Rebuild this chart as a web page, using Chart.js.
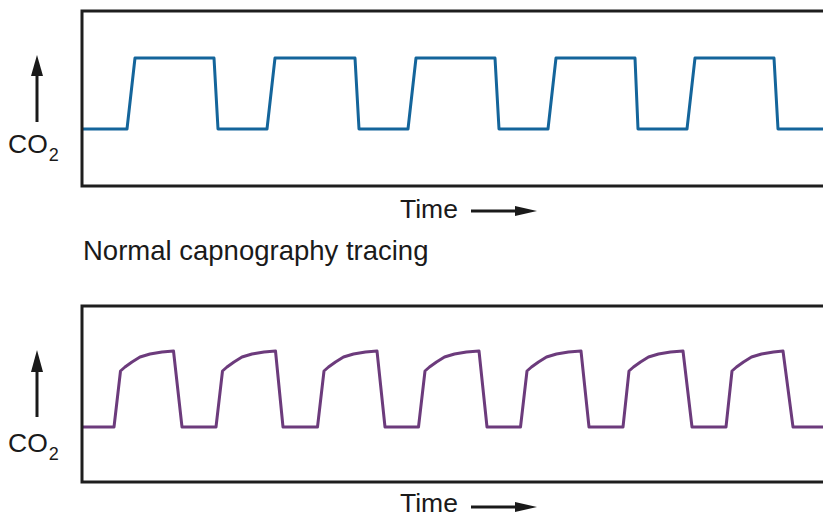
<!DOCTYPE html>
<html>
<head>
<meta charset="utf-8">
<title>Capnography tracings</title>
<script src="https://cdn.jsdelivr.net/npm/chart.js@4/dist/chart.umd.min.js"></script>
<style>
  html, body { margin: 0; padding: 0; background: #fff; overflow: hidden; }
  body { width: 823px; height: 517px; position: relative; font-family: "Liberation Sans", Arial, Helvetica, sans-serif; color: #1a1a1a; }
  .lbl { position: absolute; font-size: 26.5px; line-height: 26px; white-space: nowrap; }
  .lbl sub { font-size: 18px; vertical-align: baseline; position: relative; top: 8px; margin-left: 1px; }
  .panel { position: absolute; left: 80px; width: 760px; }
  svg { position: absolute; left: 0; top: 0; }
</style>
</head>
<body>

<div class="panel" style="top:9px;height:179px;"><canvas id="normalChart"></canvas></div>
<div class="panel" style="top:304px;height:180px;"><canvas id="curvedChart"></canvas></div>

<div class="lbl" style="left:8px;top:131px;">CO<sub>2</sub></div>
<div class="lbl" style="left:400px;top:196px;">Time</div>
<div class="lbl" style="left:83px;top:237px;font-size:27.5px;line-height:27px;">Normal capnography tracing</div>
<div class="lbl" style="left:8px;top:430px;">CO<sub>2</sub></div>
<div class="lbl" style="left:400px;top:490px;">Time</div>

<svg width="823" height="517">
  <g stroke="#1a1a1a" stroke-width="3" fill="#1a1a1a">
    <line x1="37" y1="122" x2="37" y2="72"/>
    <polygon points="37,55 31,76 43,76" stroke="none"/>
    <line x1="37" y1="417" x2="37" y2="367"/>
    <polygon points="37,350 31,372 43,372" stroke="none"/>
    <line x1="471" y1="211" x2="518" y2="211"/>
    <polygon points="537,211 515,206 515,216" stroke="none"/>
    <line x1="471" y1="507" x2="518" y2="507"/>
    <polygon points="537,507 515,502 515,512" stroke="none"/>
  </g>
</svg>

<script>
// ================================
// Data (time in arbitrary units, CO2 in arbitrary units)
// ================================
const normalTime = [0, 45, 53, 132, 136, 185, 193, 273, 277, 326, 334, 413, 417,
  466, 474, 553, 556, 605, 613, 692, 696, 758];
const normalCO2 = [57, 57, 128, 128, 57, 57, 128, 128, 57, 57, 128, 128, 57,
  57, 128, 128, 57, 57, 128, 128, 57, 57];

const curvedTime = [0,
  32, 38.5, 43, 50, 58, 68, 80, 91.5, 100,
  134, 140.5, 145, 152, 160, 170, 182, 193.5, 201,
  235.5, 242, 246.5, 253.5, 261.5, 271.5, 283.5, 295, 303,
  336.5, 343, 347.5, 354.5, 362.5, 372.5, 384.5, 397, 405,
  438.5, 445, 449.5, 456.5, 464.5, 474.5, 486.5, 499, 507,
  541, 547, 551.5, 558.5, 566.5, 576.5, 588.5, 601, 610,
  644, 650, 654.5, 661.5, 669.5, 679.5, 691.5, 701, 711,
  758];
const curvedCO2 = [55,
  55, 111, 115, 120, 125, 128, 130, 131, 55,
  55, 111, 115, 120, 125, 128, 130, 131, 55,
  55, 111, 115, 120, 125, 128, 130, 131, 55,
  55, 111, 115, 120, 125, 128, 130, 131, 55,
  55, 111, 115, 120, 125, 128, 130, 131, 55,
  55, 111, 115, 120, 125, 128, 130, 131, 55,
  55, 111, 115, 120, 125, 128, 130, 131, 55,
  55];

// ================================
// Frame: left, top and bottom edges of the plot box
// ================================
const framePlugin = {
  id: "frame",
  afterDraw(chart) {
    const { ctx, chartArea: a } = chart;
    ctx.save();
    ctx.strokeStyle = "#1e1e1e";
    ctx.lineWidth = 3;
    ctx.beginPath();
    ctx.moveTo(a.right + 5, a.top);
    ctx.lineTo(a.left, a.top);
    ctx.lineTo(a.left, a.bottom);
    ctx.lineTo(a.right + 5, a.bottom);
    ctx.stroke();
    ctx.restore();
  },
};

function makeChart(id, times, values, color, yMax) {
  return new Chart(document.getElementById(id), {
    type: "line",
    data: {
      datasets: [{
        data: times.map((t, i) => ({ x: t, y: values[i] })),
        borderColor: color,
        borderWidth: 3,
        pointRadius: 0,
        tension: 0,
        fill: false,
        borderJoinStyle: "round",
      }],
    },
    options: {
      responsive: true,
      maintainAspectRatio: false,
      animation: false,
      events: [],
      layout: { padding: { left: 2, top: 2, bottom: 2, right: 0 } },
      plugins: { legend: { display: false }, tooltip: { enabled: false } },
      scales: {
        x: { type: "linear", display: false, min: 0, max: 758 },
        y: { type: "linear", display: false, min: 0, max: yMax },
      },
    },
    plugins: [framePlugin],
  });
}

makeChart("normalChart", normalTime, normalCO2, "#14659b", 175);
makeChart("curvedChart", curvedTime, curvedCO2, "#6c3b7c", 176);
</script>
</body>
</html>
